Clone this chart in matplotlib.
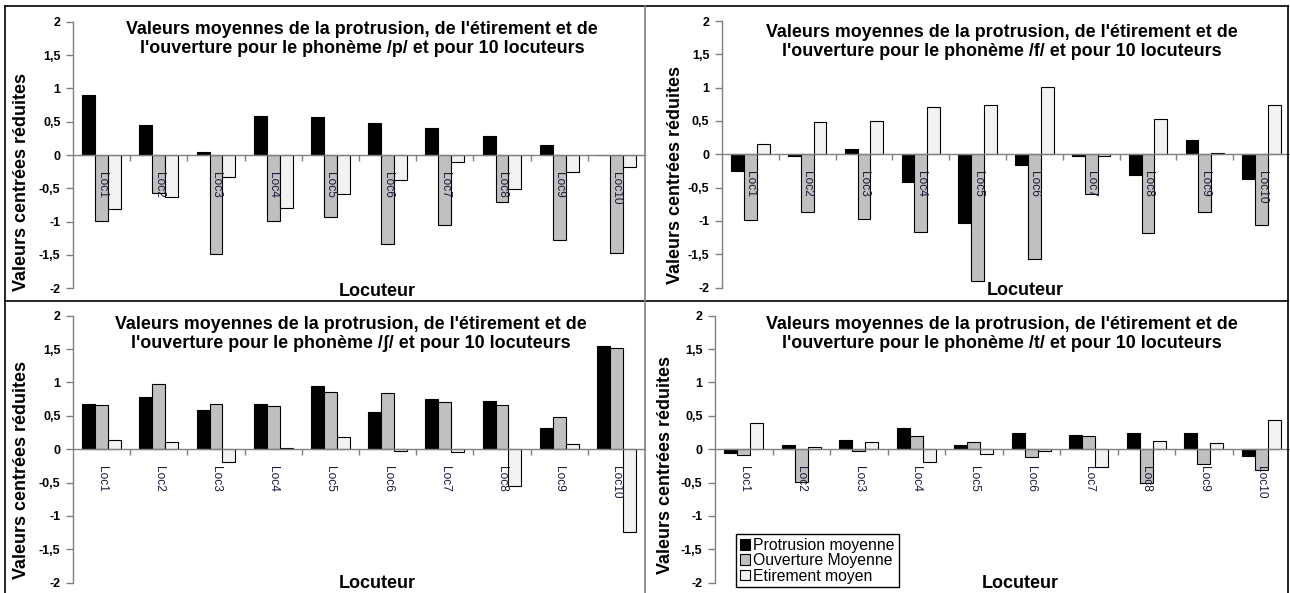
import matplotlib
matplotlib.use("Agg")
import matplotlib.pyplot as plt
from matplotlib.lines import Line2D
import numpy as np

plt.rcParams['font.family'] = ['Liberation Sans', 'DejaVu Sans']

W, H = 1290, 593

categories = ["Loc1", "Loc2", "Loc3", "Loc4", "Loc5", "Loc6", "Loc7", "Loc8", "Loc9", "Loc10"]
series_names = ["Protrusion moyenne", "Ouverture Moyenne", "Etirement moyen"]
yticks = [2, 1.5, 1, 0.5, 0, -0.5, -1, -1.5, -2]
ytick_labels = ["2", "1,5", "1", "0,5", "0", "-0,5", "-1", "-1,5", "-2"]

# phoneme /p/
p_protrusion = [0.90, 0.45, 0.05, 0.585, 0.57, 0.485, 0.40, 0.285, 0.15, 0.0]
p_ouverture = [-0.99, -0.565, -1.49, -0.99, -0.925, -1.33, -1.055, -0.71, -1.28, -1.475]
p_etirement = [-0.81, -0.635, -0.335, -0.80, -0.59, -0.375, -0.10, -0.505, -0.26, -0.185]

# phoneme /f/
f_protrusion = [-0.245, -0.02, 0.085, -0.415, -1.025, -0.155, -0.025, -0.315, 0.215, -0.375]
f_ouverture = [-0.99, -0.86, -0.965, -1.165, -1.90, -1.57, -0.60, -1.18, -0.87, -1.065]
f_etirement = [0.155, 0.485, 0.505, 0.705, 0.735, 1.005, -0.02, 0.53, 0.025, 0.745]

# phoneme /ʃ/
sh_protrusion = [0.67, 0.785, 0.585, 0.68, 0.945, 0.555, 0.745, 0.715, 0.325, 1.55]
sh_ouverture = [0.655, 0.97, 0.68, 0.64, 0.855, 0.84, 0.70, 0.655, 0.48, 1.51]
sh_etirement = [0.145, 0.105, -0.185, 0.025, 0.19, -0.025, -0.04, -0.545, 0.08, -1.24]

# phoneme /t/
t_protrusion = [-0.055, 0.07, 0.14, 0.325, 0.07, 0.24, 0.21, 0.24, 0.25, -0.095]
t_ouverture = [-0.08, -0.49, -0.025, 0.195, 0.11, -0.12, 0.195, -0.50, -0.225, -0.31]
t_etirement = [0.40, 0.04, 0.105, -0.195, -0.065, -0.025, -0.27, 0.12, 0.09, 0.43]

phonemes = ["p", "f", "ʃ", "t"]

colors = ["#000000", "#C0C0C0", "#F2F2F2"]


def fx(px):
    return px / W


def fy(py):
    return 1 - py / H


fig = plt.figure(figsize=(W / 100, H / 100), dpi=100)

# panel geometry in pixels: left, right, top (y=2), bottom (y=-2)
panels = [
    dict(data=(p_protrusion, p_ouverture, p_etirement), ph=phonemes[0],
         box=(73, 645, 21.7, 288.3), title=(362, 39), ylab=(22, 182), xlab=(377, 292)),
    dict(data=(f_protrusion, f_ouverture, f_etirement), ph=phonemes[1],
         box=(722, 1290, 21.0, 287.5), title=(1002, 42), ylab=(676, 175), xlab=(1025, 290)),
    dict(data=(sh_protrusion, sh_ouverture, sh_etirement), ph=phonemes[2],
         box=(73, 645, 315.7, 582.7), title=(351, 334), ylab=(22, 470), xlab=(377, 584)),
    dict(data=(t_protrusion, t_ouverture, t_etirement), ph=phonemes[3],
         box=(715, 1290, 315.7, 582.7), title=(1002, 334), ylab=(666, 465), xlab=(1020, 584)),
]

x = np.arange(len(categories))
bw = 0.225
offsets = [-bw, 0, bw]
axes = []
for pn in panels:
    l, r, t, b = pn["box"]
    ax = fig.add_axes([fx(l), fy(b), (r - l) / W, (b - t) / H])
    ax.patch.set_alpha(0)
    handles = []
    for i, vals in enumerate(pn["data"]):
        h = ax.bar(x + offsets[i], vals, width=bw, color=colors[i],
                   edgecolor="black", linewidth=0.8, label=series_names[i])
        handles.append(h)
    ax.set_xlim(-0.5, len(categories) - 0.5)
    ax.set_ylim(-2, 2)
    ax.spines['top'].set_visible(False)
    ax.spines['right'].set_visible(False)
    ax.spines['bottom'].set_position(('data', 0))
    ax.spines['bottom'].set_color('#808080')
    ax.spines['left'].set_color('#808080')
    ax.spines['bottom'].set_linewidth(1.0)
    ax.spines['left'].set_linewidth(1.0)
    ax.set_yticks(yticks)
    ax.set_yticklabels(ytick_labels, fontsize=9, fontweight='bold')
    ax.tick_params(axis='y', direction='out', length=5, width=1, color='#808080', pad=4)
    ax.set_xticks(x)
    ax.set_xticklabels(categories, rotation=270, fontsize=8.6, color='#1a1a3a')
    ax.tick_params(axis='x', which='major', length=0, pad=12)
    ax.set_xticks(np.arange(0.5, len(categories) - 0.5, 1), minor=True)
    ax.tick_params(axis='x', which='minor', direction='out', length=4, width=1, color='#808080')
    for lab in ax.get_xticklabels():
        lab.set_va('top')
        lab.set_ha('center')
    title = ("Valeurs moyennes de la protrusion, de l'étirement et de\n"
             "l'ouverture pour le phonème /" + pn["ph"] + "/ et pour 10 locuteurs")
    fig.text(fx(pn["title"][0]), fy(pn["title"][1]), title, ha='center', va='center',
             fontsize=12.9, fontweight='bold', linespacing=1.08)
    fig.text(fx(pn["ylab"][0]), fy(pn["ylab"][1]), "Valeurs centrées réduites",
             rotation=90, ha='center', va='center', fontsize=13, fontweight='bold')
    fig.text(fx(pn["xlab"][0]), fy(pn["xlab"][1]), "Locuteur", ha='center', va='center',
             fontsize=13, fontweight='bold')
    axes.append((ax, handles))

ax4, handles4 = axes[3]
leg = ax4.legend(handles4, series_names, loc='upper left',
                 bbox_to_anchor=(fx(736), fy(534)), bbox_transform=fig.transFigure,
                 borderaxespad=0, fontsize=11.3, handlelength=0.65, handleheight=0.65,
                 handletextpad=0.2, labelspacing=0.02, borderpad=0.25,
                 fancybox=False, framealpha=1, edgecolor='black')
leg.get_frame().set_linewidth(1.0)

# panel borders
lines = [
    ([5, 1288], [6, 6], 'black'),
    ([5, 5], [6, 593], 'black'),
    ([1288, 1288], [6, 593], 'black'),
    ([5, 1288], [301, 301], 'black'),
    ([645, 645], [6, 593], '#808080'),
]
for xs, ys, c in lines:
    fig.add_artist(Line2D([fx(v) for v in xs], [fy(v) for v in ys], color=c,
                          linewidth=1.2, transform=fig.transFigure))

fig.savefig("out.png", dpi=100)
